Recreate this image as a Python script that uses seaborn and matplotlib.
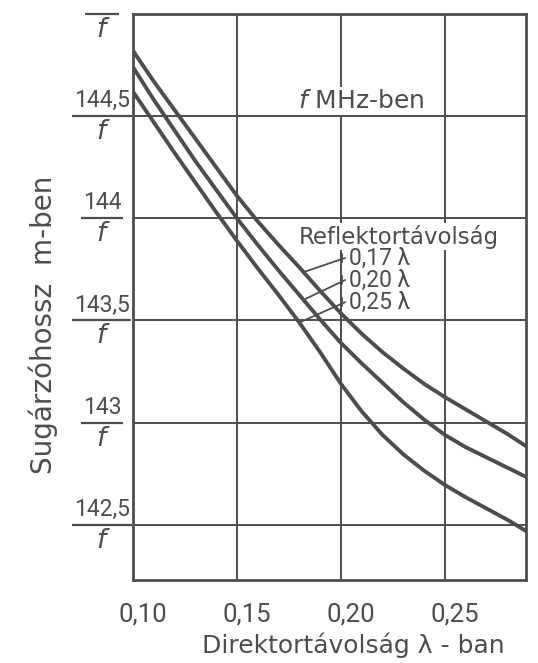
import numpy as np
import pandas as pd
import matplotlib
matplotlib.use("Agg")
import matplotlib.pyplot as plt
import matplotlib.transforms as mtransforms
import seaborn as sns

# Direktortávolság (λ-ban) – közös mérési pontok
direktor = [0.10, 0.11, 0.12, 0.13, 0.14, 0.15, 0.16, 0.17, 0.18, 0.19,
            0.20, 0.21, 0.22, 0.23, 0.24, 0.25, 0.26, 0.27, 0.28, 0.289]

# Sugárzóhossz számlálója (m = érték / f), reflektortávolságonként
hossz_017 = [144.82, 144.67, 144.53, 144.39, 144.25, 144.11, 143.985, 143.87, 143.76, 143.645,
             143.535, 143.435, 143.345, 143.265, 143.19, 143.125, 143.065, 143.005, 142.945, 142.885]
hossz_020 = [144.74, 144.58, 144.43, 144.28, 144.14, 144.00, 143.87, 143.745, 143.625, 143.505,
             143.39, 143.29, 143.195, 143.10, 143.015, 142.94, 142.88, 142.83, 142.78, 142.735]
hossz_025 = [144.62, 144.47, 144.32, 144.175, 144.03, 143.89, 143.755, 143.625, 143.49, 143.345,
             143.19, 143.055, 142.94, 142.845, 142.765, 142.695, 142.635, 142.58, 142.525, 142.47]

reflektor_cimkek = ["0,17 λ", "0,20 λ", "0,25 λ"]

x_ticks = [0.10, 0.15, 0.20, 0.25]
x_ticklabels = ["0,10", "0,15", "0,20", "0,25"]
y_ticks = [142.5, 143.0, 143.5, 144.0, 144.5, 145.0]
y_szamlalok = ["142,5", "143", "143,5", "144", "144,5", ""]

X_LIM = (0.10, 0.289)
Y_LIM = (142.23, 145.0)

INK = "#4d4d4d"
NARROW = ["Roboto", "DejaVu Sans"]
WIDE = ["DejaVu Sans"]

sns.set_theme(style="white")
plt.rcParams["font.family"] = NARROW
plt.rcParams["mathtext.fontset"] = "custom"
plt.rcParams["mathtext.it"] = "DejaVu Sans:italic"
plt.rcParams["mathtext.rm"] = "DejaVu Sans"

df = pd.DataFrame({
    "direktor": direktor * 3,
    "hossz": hossz_017 + hossz_020 + hossz_025,
    "reflektor": [reflektor_cimkek[0]] * len(direktor)
                 + [reflektor_cimkek[1]] * len(direktor)
                 + [reflektor_cimkek[2]] * len(direktor),
})

W, H = 538, 663
fig = plt.figure(figsize=(W / 100, H / 100), dpi=100)
ax = fig.add_axes([133 / W, 1 - 580 / H, 393 / W, 566 / H])

sns.lineplot(data=df, x="direktor", y="hossz", hue="reflektor",
             palette=[INK, INK, INK], linewidth=2.8, legend=False,
             ax=ax, zorder=5)

ax.set_xlim(*X_LIM)
ax.set_ylim(*Y_LIM)
ax.set_xlabel("")
ax.set_ylabel("")

# rács
ax.set_xticks(x_ticks)
ax.set_yticks(y_ticks)
ax.grid(True, color=INK, linewidth=1.4)
ax.set_axisbelow(True)
for sp in ax.spines.values():
    sp.set_color(INK)
    sp.set_linewidth(2.0)

ax.tick_params(axis="both", length=0)
ax.set_xticklabels(x_ticklabels, fontsize=18.5, color=INK, family=NARROW)
ax.tick_params(axis="x", pad=16)
shift = mtransforms.ScaledTranslation(10 / 100, 0, fig.dpi_scale_trans)
for lab in ax.get_xticklabels():
    lab.set_transform(lab.get_transform() + shift)
ax.set_yticklabels([])

# y tengely: törtes feliratok (érték / f)
ytrans = mtransforms.blended_transform_factory(ax.transAxes, ax.transData)
up = mtransforms.ScaledTranslation(0, 4 / 100, fig.dpi_scale_trans)
down = mtransforms.ScaledTranslation(0, -3 / 100, fig.dpi_scale_trans)
frac_x = -0.079
szamlalo_obj = []
for val, num in zip(y_ticks, y_szamlalok):
    t = None
    if num:
        t = ax.text(frac_x, val, num, transform=ytrans + up, ha="center", va="bottom",
                    fontsize=16.5, color=INK, family=NARROW, clip_on=False)
    ax.text(frac_x - 0.002, val, "f", transform=ytrans + down, ha="center", va="top",
            fontsize=19, color=INK, family=WIDE, style="italic", clip_on=False)
    szamlalo_obj.append((val, t))

fig.canvas.draw()
renderer = fig.canvas.get_renderer()
ax_w = ax.get_window_extent().width
for val, t in szamlalo_obj:
    half = 0.043
    if t is not None:
        half = t.get_window_extent(renderer).width / ax_w / 2 + 0.004
    ax.plot([frac_x - half, frac_x + half], [val, val], transform=ytrans,
            color=INK, linewidth=1.6, clip_on=False, solid_capstyle="butt")

# feliratok a diagramon
ax.text(0.1794, 144.575, "$f$ MHz-ben", fontsize=18, color=INK, family=WIDE,
        ha="left", va="center",
        bbox=dict(facecolor="white", edgecolor="none", pad=1.5), zorder=3)
ax.text(0.1795, 143.91, "Reflektortávolság", fontsize=16.5, color=INK, family=WIDE,
        ha="left", va="center",
        bbox=dict(facecolor="white", edgecolor="none", pad=1.0), zorder=3)

# vezetővonalak a görbékhez
leader_x0 = 0.2005
leader_y0 = [143.806, 143.698, 143.590]
leader_x1 = [0.182, 0.182, 0.180]
gorbek = [hossz_017, hossz_020, hossz_025]
for lab, y0, x1, g in zip(reflektor_cimkek, leader_y0, leader_x1, gorbek):
    y1 = float(np.interp(x1, direktor, g))
    ax.plot([leader_x0 + 0.0015, x1], [y0, y1], color=INK, linewidth=1.3, zorder=4)
    ax.plot([leader_x0, leader_x0], [y0 - 0.02, y0 + 0.02], color=INK, linewidth=1.3, zorder=4)
    ax.text(leader_x0 + 0.0035, y0, lab, fontsize=16.5, color=INK, family=NARROW,
            ha="left", va="center", zorder=3)

# tengelyfeliratok
fig.text(353 / W, 1 - 645 / H, "Direktortávolság λ - ban", fontsize=18, color=INK,
         family=WIDE, ha="center", va="center")
fig.text(43 / W, 1 - 325 / H, "Sugárzóhossz  m-ben", fontsize=20, color=INK,
         family=WIDE, rotation=90, ha="center", va="center")

fig.savefig("out.png", dpi=100, facecolor="white")
